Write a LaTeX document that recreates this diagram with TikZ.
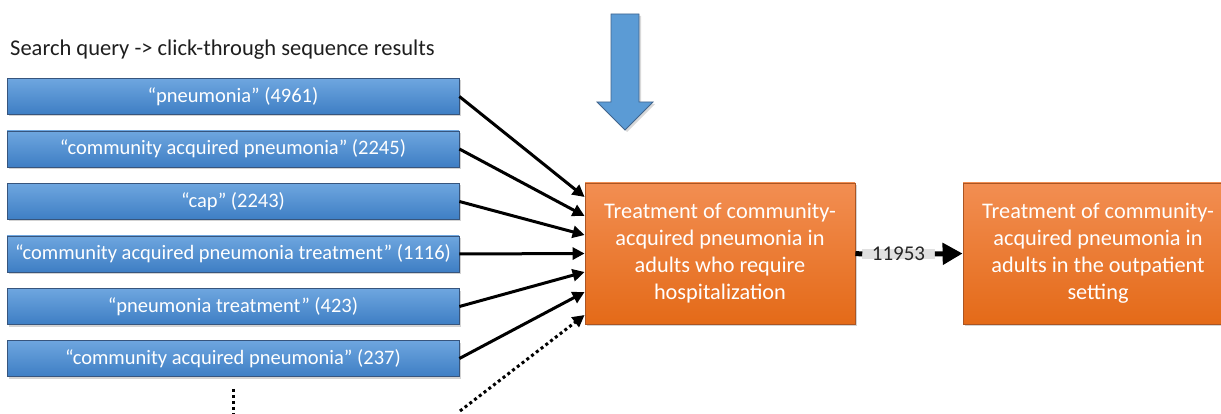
\documentclass[tikz,border=0pt]{standalone}
\usepackage{fontspec}
\setmainfont{Carlito}
\usetikzlibrary{arrows.meta,shadows,backgrounds}
\definecolor{bluetop}{RGB}{110,166,223}
\definecolor{bluebot}{RGB}{62,126,196}
\definecolor{blueedge}{RGB}{55,85,125}
\definecolor{orgtop}{RGB}{242,142,82}
\definecolor{orgbot}{RGB}{228,106,24}
\definecolor{orgedge}{RGB}{170,85,35}
\definecolor{bigblue}{RGB}{91,155,213}
\definecolor{bigedge}{RGB}{65,100,140}
\definecolor{titlec}{RGB}{30,30,30}
\tikzset{
  qbox/.style={draw=blueedge, line width=0.8pt, top color=bluetop, bottom color=bluebot,
    minimum width=452pt, minimum height=36pt, inner sep=0pt, text=white,
    font=\fontsize{20.5}{24}\selectfont,
    drop shadow={shadow xshift=2pt,shadow yshift=-2pt,opacity=0.35}},
  obox/.style={draw=orgedge, line width=0.8pt, top color=orgtop, bottom color=orgbot,
    minimum width=270pt, minimum height=141pt, inner sep=0pt, text=white,
    align=center, font=\fontsize{22.3}{27}\selectfont,
    drop shadow={shadow xshift=2pt,shadow yshift=-2pt,opacity=0.35}},
  conn/.style={line width=3pt, -{Triangle[length=12pt,width=12pt]}},
  dotconn/.style={line width=3pt, dash pattern=on 3pt off 3pt, -{Triangle[length=12pt,width=12pt]}},
}
\begin{document}
\begin{tikzpicture}[x=1pt,y=-1pt]
\useasboundingbox (0,0) rectangle (1221,414);
\clip (0,0) rectangle (1221,414);

\node[anchor=west, text=titlec, font=\fontsize{22.5}{26}\selectfont, inner sep=0pt] (title) at (10,50) {Search query -> click-through sequence results};

\node[qbox] (b1) at (233,96.5) {“pneumonia” (4961)};
\node[qbox] (b2) at (233,149) {“community acquired pneumonia” (2245)};
\node[qbox] (b3) at (233,201.5) {“cap” (2243)};
\node[qbox] (b4) at (233,254) {“community acquired pneumonia treatment” (1116)};
\node[qbox] (b5) at (233,306.5) {“pneumonia treatment” (423)};
\node[qbox] (b6) at (233,358.5) {“community acquired pneumonia” (237)};

\node[obox] (o1) at (720,253.5) {Treatment of community-\\acquired pneumonia in\\adults who require\\hospitalization};
\node[obox] (o2) at (1098,253.5) {Treatment of community-\\acquired pneumonia in\\adults in the outpatient\\setting};

% big blue arrow
\draw[fill=bigblue, draw=bigedge, line width=0.8pt,
  drop shadow={shadow xshift=2pt,shadow yshift=-2pt,opacity=0.3}]
  (611,14) -- (639,14) -- (639,102) -- (653,102) -- (625,130) -- (597,102) -- (611,102) -- cycle;

% connectors
\draw[conn] (b1.east) -- ([yshift=56.5pt]o1.west);
\draw[conn] (b2.east) -- ([yshift=37.5pt]o1.west);
\draw[conn] (b3.east) -- ([yshift=18.5pt]o1.west);
\draw[conn] (b4.east) -- ([yshift=0pt]o1.west);
\draw[conn] (b5.east) -- ([yshift=-18.5pt]o1.west);
\draw[conn] (b6.east) -- ([yshift=-38.5pt]o1.west);
\coordinate (dstart) at (460,411);
\draw[dotconn] (dstart) -- ([yshift=-61.5pt]o1.west);

% vertical ellipsis dots
\coordinate (vd) at (233,414);
\draw[line width=3pt, dash pattern=on 3pt off 3pt] ([yshift=-12pt]b6.south) -- (vd);

% 11953 connector
\node[inner xsep=9.5pt, inner ysep=0pt, font=\fontsize{21}{25}\selectfont, text=black!85] (lab) at (898.5,254) {11953};
\begin{scope}[on background layer]
\draw[line width=10pt, black!12] (lab.west) -- (lab.east);
\end{scope}
\draw[line width=5pt] (o1.east) -- (lab.west);
\draw[line width=5pt, -{Triangle[length=20pt,width=21pt]}] (lab.east) -- (o2.west);
\end{tikzpicture}
\end{document}
